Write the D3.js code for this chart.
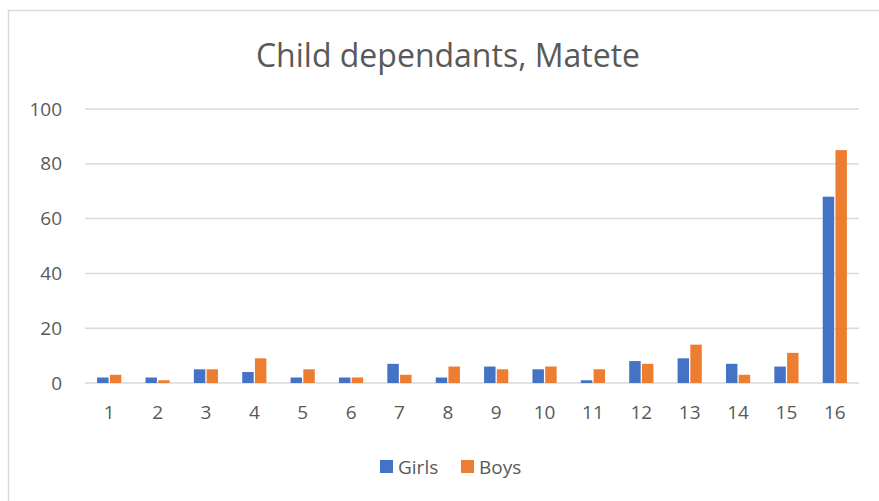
<!DOCTYPE html>
<html>
  <head>
    <meta charset="UTF-8">
    <title>Child dependants, Matete</title>
    <style>
      body { margin: 0; background: #fff; }
      svg text { fill: #595959; font-family: "Open Sans", "Noto Sans", sans-serif; }
      .grid line { stroke: #d9d9d9; stroke-width: 1.5px; }
    </style>
    <script src="https://cdnjs.cloudflare.com/ajax/libs/d3/7.8.5/d3.min.js"></script>
  </head>
  <body>
    <div id="chart"></div>
    <script>
      var categories = ["1","2","3","4","5","6","7","8","9","10","11","12","13","14","15","16"];
      var girls = [2, 2, 5, 4, 2, 2, 7, 2, 6, 5, 1, 8, 9, 7, 6, 68];
      var boys  = [3, 1, 5, 9, 5, 2, 3, 6, 5, 6, 5, 7, 14, 3, 11, 85];
      var yTicks = [0, 20, 40, 60, 80, 100];
      var seriesNames = ["Girls", "Boys"];
      var colors = ["#4472c4", "#ed7d31"];

      var W = 879, H = 501;
      var plot = {left: 85, right: 859, top: 109, bottom: 383};

      var svg = d3.select("#chart").append("svg")
          .attr("width", W)
          .attr("height", H);

      // chart frame (only left and top edges show in the picture)
      svg.append("rect")
          .attr("x", 8.5).attr("y", 10.5)
          .attr("width", 900).attr("height", 600)
          .attr("fill", "none")
          .attr("stroke", "#d9d9d9")
          .attr("stroke-width", 1.5);

      svg.append("text")
          .attr("x", 448).attr("y", 67)
          .attr("text-anchor", "middle")
          .style("font-size", "32px")
          .text("Child dependants, Matete");

      var x = d3.scaleBand().domain(categories).range([plot.left, plot.right]).paddingInner(0.5).paddingOuter(0.25);
      var x1 = d3.scaleBand().domain(seriesNames).range([0, x.bandwidth()]).paddingInner(0.1);
      var y = d3.scaleLinear().domain([0, 100]).range([plot.bottom, plot.top]);

      // gridlines
      svg.append("g").attr("class", "grid")
        .selectAll("line").data(yTicks).enter().append("line")
          .attr("x1", plot.left).attr("x2", plot.right)
          .attr("y1", function(d) { return y(d); })
          .attr("y2", function(d) { return y(d); });

      // y axis labels
      var yAxis = d3.axisLeft(y).tickValues(yTicks).tickSize(0).tickPadding(23);
      svg.append("g")
          .attr("transform", "translate(" + plot.left + ",0)")
          .call(yAxis)
          .call(function(g) { g.select(".domain").remove(); })
          .selectAll("text").attr("fill", "#595959").style("font-size", "19px")
          .style("font-family", "'Open Sans', sans-serif");

      // x axis labels
      var xAxis = d3.axisBottom(x).tickSize(0).tickPadding(23);
      svg.append("g")
          .attr("transform", "translate(0," + plot.bottom + ")")
          .call(xAxis)
          .call(function(g) { g.select(".domain").remove(); })
          .selectAll("text").attr("fill", "#595959").style("font-size", "19px")
          .style("font-family", "'Open Sans', sans-serif");

      var rows = categories.map(function(c, i) {
        return {cat: c, values: [girls[i], boys[i]]};
      });

      var groups = svg.append("g").selectAll("g").data(rows).enter().append("g")
          .attr("transform", function(d) { return "translate(" + x(d.cat) + ",0)"; });

      groups.selectAll("rect")
        .data(function(d) { return d.values.map(function(v, j) { return {name: seriesNames[j], v: v, j: j}; }); })
        .enter().append("rect")
          .attr("x", function(d) { return x1(d.name); })
          .attr("width", x1.bandwidth())
          .attr("y", function(d) { return y(d.v); })
          .attr("height", function(d) { return y(0) - y(d.v); })
          .attr("fill", function(d) { return colors[d.j]; });

      // legend
      var legend = svg.append("g");
      var legendItems = [{name: "Girls", x: 380}, {name: "Boys", x: 461}];
      legendItems.forEach(function(it, i) {
        legend.append("rect")
            .attr("x", it.x).attr("y", 460)
            .attr("width", 13).attr("height", 13)
            .attr("fill", colors[i]);
        legend.append("text")
            .attr("x", it.x + 18).attr("y", 474)
            .style("font-size", "19px")
            .text(it.name);
      });
    </script>
  </body>
</html>
